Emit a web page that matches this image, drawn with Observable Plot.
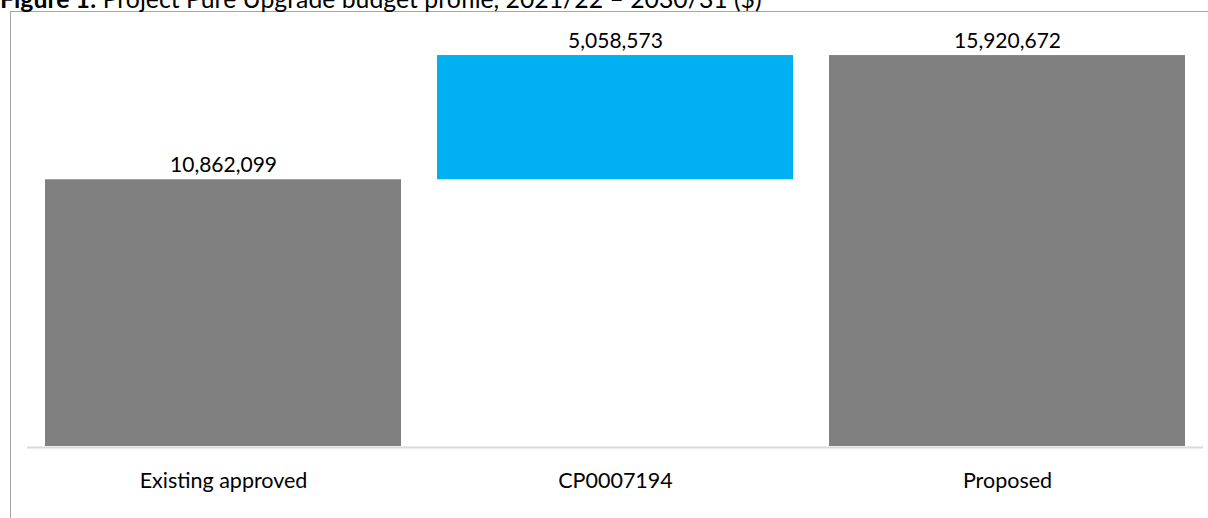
<!DOCTYPE html>
<html><head><meta charset="utf-8">
<script src="https://cdn.jsdelivr.net/npm/d3@7"></script>
<script src="https://cdn.jsdelivr.net/npm/@observablehq/plot@0.6"></script>
<style>
body{margin:0;background:#fff;width:1208px;height:518px;overflow:hidden;position:relative;font-family:Lato,sans-serif;}
#title{position:absolute;left:0;top:-16.5px;font-size:24.8px;line-height:1.2;white-space:nowrap;color:#000;z-index:2;}
#frame{position:absolute;left:10px;top:11px;width:1300px;height:600px;border-left:1px solid #a6a6a6;border-top:1px solid #a6a6a6;}
#chart{position:absolute;left:0;top:0;}
</style></head><body>
<div id="frame"></div>
<div id="chart"></div>
<div id="title"><b>Figure 1:</b> Project Pure Upgrade budget profile, 2021/22 – 2030/31 ($)</div>
<script>
const categories = ["Existing approved", "CP0007194", "Proposed"];
const values = [10862099, 5058573, 15920672];
const kinds = ["total", "increase", "total"];
const colors = {total: "#808080", increase: "#00b0f0"};

let running = 0;
const data = categories.map((c, i) => {
  let y1, y2;
  if (kinds[i] === "total") { y1 = 0; y2 = values[i]; running = values[i]; }
  else { y1 = running; y2 = running + values[i]; running = y2; }
  return {category: c, value: values[i], kind: kinds[i], y1, y2};
});

const chart = Plot.plot({
  width: 1208,
  height: 518,
  marginLeft: 27,
  marginRight: 5,
  marginTop: 4,
  marginBottom: 72,
  style: {fontFamily: "Lato, sans-serif", fontSize: "21px", color: "#000", background: "transparent"},
  x: {domain: categories, paddingInner: 0.0918, paddingOuter: 0.0459, label: null},
  y: {domain: [0, 18000000], axis: null},
  marks: [
    Plot.barY(data, {x: "category", y1: "y1", y2: "y2", fill: d => colors[d.kind]}),
    Plot.ruleY([0], {stroke: "#d9d9d9", strokeWidth: 2, dy: 1}),
    Plot.text(data, {x: "category", y: "y2", text: d => d3.format(",")(d.value), lineAnchor: "bottom", dy: -8, fill: "#000", fontSize: 21}),
    Plot.axisX({tickSize: 0, tickPadding: 26, fontSize: 21.5, label: null})
  ]
});
document.getElementById("chart").appendChild(chart);
</script>
</body></html>
